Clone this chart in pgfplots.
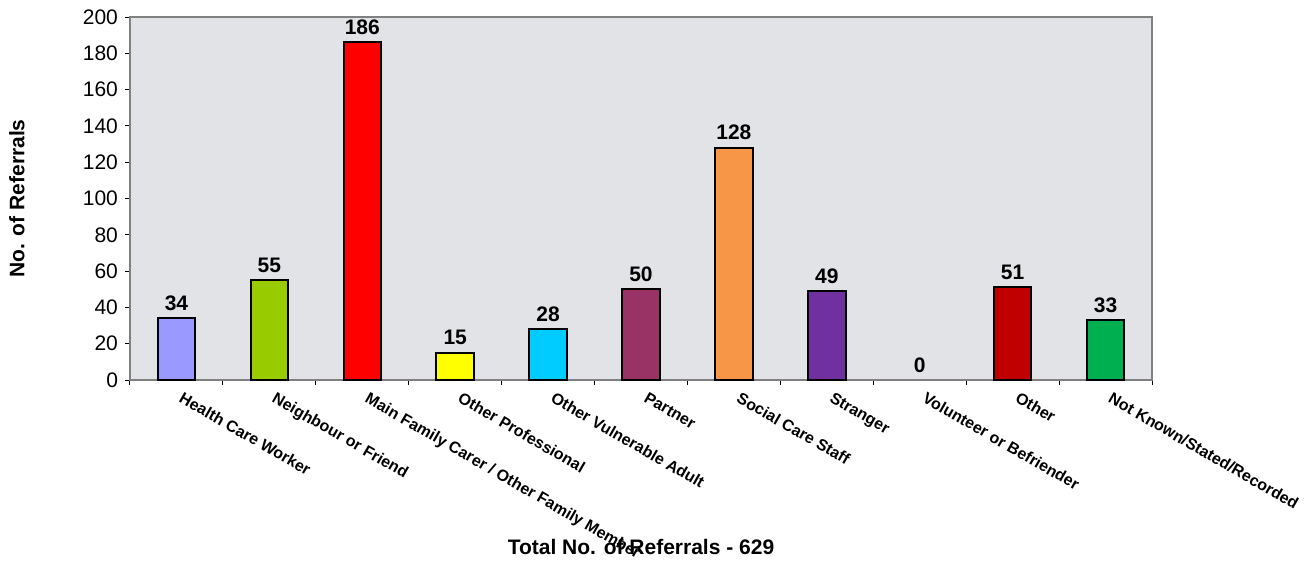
\documentclass[border=0pt]{standalone}
\usepackage{pgfplots}
\pgfplotsset{compat=1.18}
\usepackage{fontspec}
\setmainfont{Liberation Sans}

\definecolor{cHealth}{HTML}{9999FF}
\definecolor{cNeigh}{HTML}{99CC00}
\definecolor{cMain}{HTML}{FF0000}
\definecolor{cOthProf}{HTML}{FFFF00}
\definecolor{cOthVuln}{HTML}{00CCFF}
\definecolor{cPartner}{HTML}{993366}
\definecolor{cSocial}{HTML}{F79646}
\definecolor{cStranger}{HTML}{7030A0}
\definecolor{cVolunteer}{HTML}{808080}
\definecolor{cOther}{HTML}{C00000}
\definecolor{cNotKnown}{HTML}{00B050}
\definecolor{marble}{RGB}{226,227,231}
\definecolor{frame}{RGB}{128,128,128}

\pgfplotsset{refbar/.style={fill=#1, draw=black, line width=1pt, bar shift=0pt}}

\begin{document}
\begin{tikzpicture}
\useasboundingbox (-65pt,-91pt) rectangle (589pt,190pt);
\begin{axis}[
    at={(0,0)}, anchor=south west,
    scale only axis,
    width=511pt, height=181.5pt,
    /pgf/number format/assume math mode=true,
    ybar, bar width=18.7pt,
    xmin=-0.5, xmax=10.5,
    ymin=0, ymax=200,
    ytick={0,20,...,200},
    xtick={0,...,10},
    minor xtick={-0.5,0.5,...,10.5},
    xticklabels={Health Care Worker, Neighbour or Friend, Main Family Carer / Other Family Member,
        Other Professional, Other Vulnerable Adult, Partner, Social Care Staff, Stranger,
        Volunteer or Befriender, Other, Not Known/Stated/Recorded},
    tick align=outside,
    tick pos=left,
    major tick length=2.5pt,
    minor tick length=2.5pt,
    major x tick style={draw=none},
    tick style={black, line width=0.5pt},
    axis line style={draw=frame, line width=0.9pt},
    axis background/.style={fill=marble},
    ticklabel style={font=\fontsize{10.5}{12}\selectfont},
    xticklabel style={font=\bfseries\fontsize{8}{9.6}\selectfont, xshift=2.5pt, yshift=1.5pt, rotate=-30, anchor=north west},
    nodes near coords,
    every node near coord/.append style={font=\bfseries\fontsize{10.5}{12}\selectfont, black},
    ylabel={No. of Referrals},
    ylabel style={font=\bfseries\fontsize{10.5}{12}\selectfont, at={(axis description cs:-0.1106,0.5)}, anchor=center},
    xlabel={Total No. of Referrals - 629},
    xlabel style={font=\bfseries\fontsize{10.5}{12}\selectfont, at={(axis description cs:0.5,0)}, yshift=-83.5pt, anchor=center},
]
\addplot[refbar=cHealth]    coordinates {(0,34)};
\addplot[refbar=cNeigh]     coordinates {(1,55)};
\addplot[refbar=cMain]      coordinates {(2,186)};
\addplot[refbar=cOthProf]   coordinates {(3,15)};
\addplot[refbar=cOthVuln]   coordinates {(4,28)};
\addplot[refbar=cPartner]   coordinates {(5,50)};
\addplot[refbar=cSocial]    coordinates {(6,128)};
\addplot[refbar=cStranger]  coordinates {(7,49)};
\addplot[refbar=cVolunteer, draw=none] coordinates {(8,0)};
\addplot[refbar=cOther]     coordinates {(9,51)};
\addplot[refbar=cNotKnown]  coordinates {(10,33)};
\end{axis}
\end{tikzpicture}
\end{document}
